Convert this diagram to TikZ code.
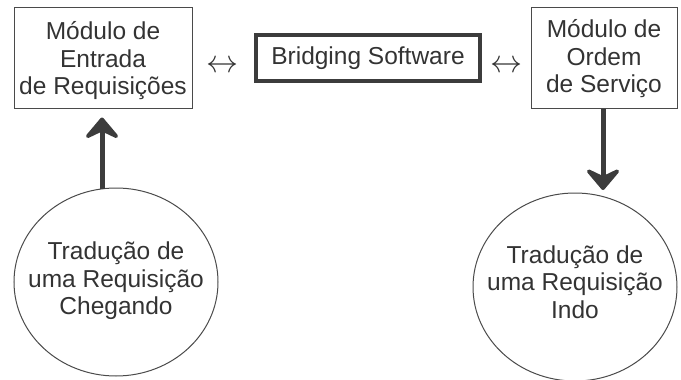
\documentclass[tikz,border=0pt]{standalone}
\usepackage{fontspec}
\setmainfont{Liberation Sans}
\usetikzlibrary{arrows.meta,shapes.geometric}
\definecolor{ink}{HTML}{333333}
\definecolor{frame}{HTML}{4A4A4A}
\definecolor{heavy}{HTML}{3C3C3C}
\tikzset{
  lbl/.style={font=\fontsize{24.5}{27.5}\selectfont, text=ink, align=center},
  modbox/.style={draw=frame, line width=1pt, rectangle, inner sep=0pt},
  bridgebox/.style={lbl, draw=heavy, line width=4pt, rectangle, inner sep=0pt, minimum width=224pt, minimum height=46pt},
  transl/.style={draw=frame, line width=1pt, ellipse, inner sep=0pt, minimum width=204pt, minimum height=188pt},
  bigarrow/.style={draw=heavy, line width=5pt, -{Stealth[length=25pt, width=42pt, inset=10pt, round]}},
  dblarrow/.style={text=ink, inner sep=0pt}
}
\begin{document}
\begin{tikzpicture}[x=1pt, y=-1pt]
\useasboundingbox (0,0) rectangle (681,380);
\node[modbox, minimum width=178pt, minimum height=101pt] (ent) at (103,57.5) {};
\node[lbl] (entt) at (103,61) {Módulo de\\Entrada\\de Requisições};
\node[bridgebox] (bri) at (368,58) {Bridging Software};
\node[modbox, minimum width=146pt, minimum height=101pt] (ord) at (604,57.5) {};
\node[lbl] (ordt) at (604,59) {Módulo de\\Ordem\\de Serviço};
\node[dblarrow] (d1) at (222,67) {\resizebox{32pt}{!}{$\leftrightarrow$}};
\node[dblarrow] (d2) at (506,67) {\resizebox{32pt}{!}{$\leftrightarrow$}};
\node[transl] (chl) at (116,282) {};
\node[lbl] (chlt) at (116,281) {Tradução de\\uma Requisição\\Chegando};
\node[transl] (ind) at (575,287) {};
\node[lbl] (indt) at (575,282) {Tradução de\\uma Requisição\\Indo};
\coordinate (tipL) at ([yshift=-9pt]ent.south -| 102,0);
\coordinate (startL) at (102,189);
\coordinate (tipR) at (603,190);
\draw[bigarrow] (startL) -- (tipL);
\draw[bigarrow] (ord.south -| tipR) -- (tipR);
\end{tikzpicture}
\end{document}
